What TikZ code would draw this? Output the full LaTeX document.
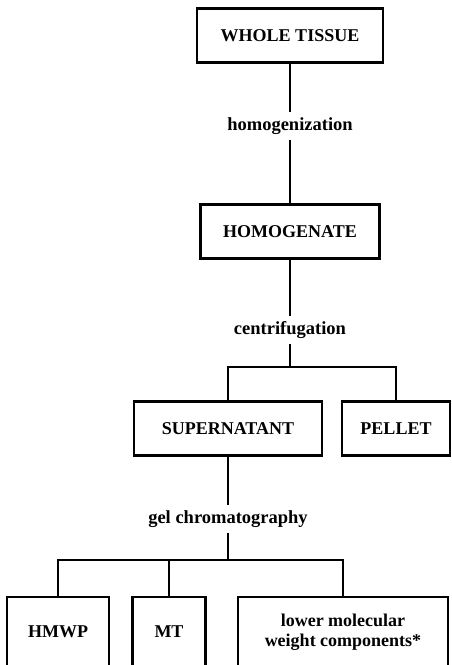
\documentclass[tikz,border=0pt]{standalone}
\usepackage{fontspec}
\setmainfont{Liberation Serif}
\tikzset{
  procbox/.style   = {draw, line width=2.4pt, minimum height=54pt, inner sep=0pt,
                      font=\fontsize{18}{19}\selectfont\bfseries},
  proclabel/.style = {inner xsep=2pt, inner ysep=5pt, text height=13pt, text depth=4pt,
                      font=\fontsize{18.5}{19}\selectfont\bfseries},
  flowline/.style  = {line width=1.7pt}
}

\begin{document}
\begin{tikzpicture}[x=1pt,y=-1pt]
  \useasboundingbox (0,0) rectangle (451,665);
  \clip (0,0) rectangle (451,665);
  % main chain
  \node[procbox,minimum width=186pt] (tissue) at (290,35.5) {WHOLE TISSUE};
  \node[proclabel] (homzn) at (290,126) {homogenization};
  \node[procbox,minimum width=179pt] (homog) at (290,231.5) {HOMOGENATE};
  \node[proclabel] (centr) at (290,330) {centrifugation};
  \draw[flowline] (tissue) -- (homzn) -- (homog) -- (centr);
  % centrifugation split
  \node[procbox,minimum width=188pt] (super) at (228,428.5) {SUPERNATANT};
  \node[procbox,minimum width=108pt] (pellet) at (396,428.5) {PELLET};
  \coordinate (b1) at (290,367);
  \draw[flowline] (centr) -- (b1);
  \draw[flowline] (super.north) |- (b1) -| (pellet.north);
  % gel chromatography split
  \node[proclabel] (gelch) at (228,519) {gel chromatography};
  \draw[flowline] (super) -- (gelch);
  \node[procbox,minimum width=102pt,minimum height=70pt] (hmwp) at (58,632) {HMWP};
  \node[procbox,minimum width=73pt,minimum height=70pt] (mt) at (169,632) {MT};
  \node[procbox,minimum width=210pt,minimum height=70pt,align=center,
        font=\fontsize{18}{19.5}\selectfont\bfseries] (lmw) at (343,632)
       {lower molecular\\weight components*};
  \coordinate (b2) at (228,560);
  \draw[flowline] (gelch) -- (b2);
  \draw[flowline] (hmwp.north) |- (b2) -| (lmw.north);
  \draw[flowline] (mt.north) -- (mt.north |- b2);
\end{tikzpicture}
\end{document}
